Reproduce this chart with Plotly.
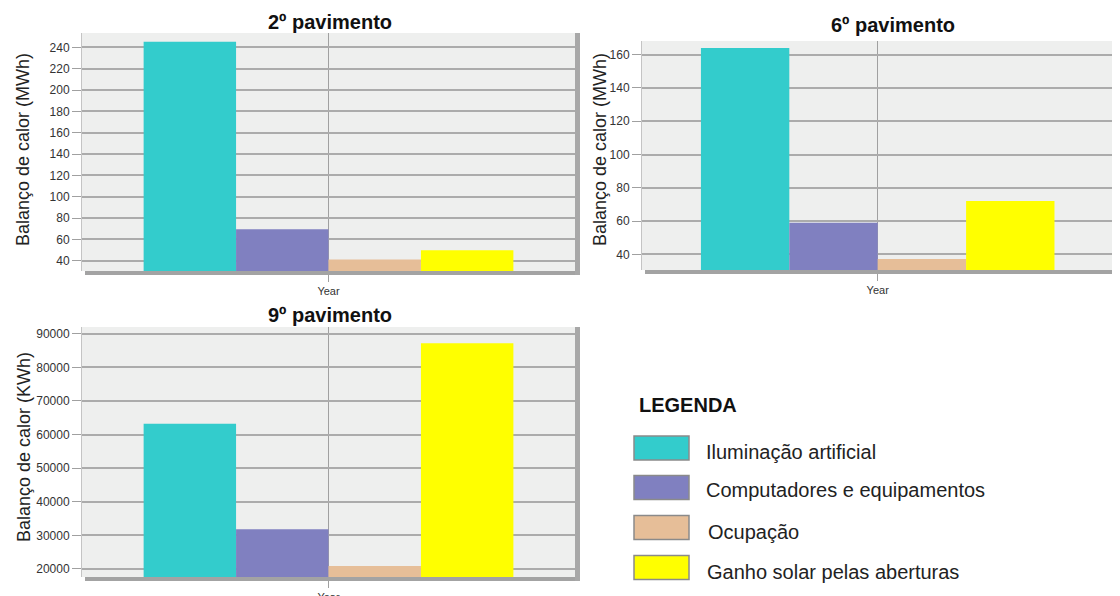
import plotly.graph_objects as go

# the page body keeps its default 8px margin: the figure is shifted by it and the
# window clips its right and bottom 8px, so the figure is drawn 8px smaller
OFF = 8
W, H = 1120 - OFF, 596 - OFF

categories = ["Iluminação artificial", "Computadores e equipamentos", "Ocupação", "Ganho solar pelas aberturas"]
colors = ["#33CCCC", "#8080C0", "#E6BE98", "#FFFF00"]
x_label = ["Year"]

pav2 = [245.3, 69.5, 41, 49.7]
pav6 = [164, 59, 37.2, 72]
pav9 = [63200, 31800, 20900, 87200]

titles = ["2º pavimento", "6º pavimento", "9º pavimento"]
ytitles = ["Balanço de calor (MWh)", "Balanço de calor (MWh)", "Balanço de calor (KWh)"]


def px(x):
    return min(max((x - OFF) / W, 0), 1)


def py(y):
    return min(max(1 - (y - OFF) / H, 0), 1)


# panel geometry in screen pixels: left, right, top, bottom
panels = [
    dict(l=82, r=575, t=33, b=271, yr=[30.3, 253.5], dt=20, xr=[-0.5, 0.5], data=pav2,
         title_xy=(330, 22), ytitle_xy=(23, 150)),
    dict(l=642, r=1120, t=41, b=270, yr=[30.6, 168.2], dt=20, xr=[-0.5, 0.514], data=pav6,
         title_xy=(893, 25), ytitle_xy=(600, 150)),
    dict(l=82, r=575, t=327, b=577, yr=[17600, 92000], dt=10000, xr=[-0.5, 0.5], data=pav9,
         title_xy=(330, 315), ytitle_xy=(24, 447)),
]

fig = go.Figure()
shapes = []
annotations = []
font_family = "Liberation Sans, Arial, sans-serif"

for i, p in enumerate(panels):
    xa = "x" if i == 0 else f"x{i+1}"
    ya = "y" if i == 0 else f"y{i+1}"
    for name, col, v in zip(categories, colors, p["data"]):
        fig.add_trace(go.Bar(x=x_label, y=[v], name=name, marker=dict(color=col, line=dict(width=0)),
                             xaxis=xa, yaxis=ya, showlegend=False))
    xkey = "xaxis" if i == 0 else f"xaxis{i+1}"
    ykey = "yaxis" if i == 0 else f"yaxis{i+1}"
    fig.update_layout(**{
        xkey: dict(domain=[px(p["l"]), px(p["r"])], anchor=ya, range=p["xr"], automargin=False,
                   showgrid=True, gridcolor="#a0a0a0", gridwidth=1,
                   ticks="outside", ticklen=10, tickcolor="#a0a0a0",
                   tickfont=dict(size=11, color="#333333", family=font_family),
                   showline=False, zeroline=False, fixedrange=True),
        ykey: dict(domain=[py(p["b"]), py(p["t"])], anchor=xa, range=p["yr"], dtick=p["dt"],
                   automargin=False, tick0=0, tickformat="d",
                   showgrid=True, gridcolor="#ababab", gridwidth=1.6,
                   ticks="outside", ticklen=9, tickcolor="#a0a0a0",
                   tickfont=dict(size=12, color="#333333", family=font_family),
                   showline=True, linecolor="#c4c4c4", linewidth=1, zeroline=False),
    })
    # shadow borders
    shapes.append(dict(type="rect", xref="paper", yref="paper",
                       x0=px(p["l"] + 3), x1=px(p["r"] + 5),
                       y0=py(p["b"] + 4), y1=py(p["b"]),
                       fillcolor="#a3a3a3", line=dict(width=0), layer="above"))
    if p["r"] + 5 <= 1120:
        shapes.append(dict(type="rect", xref="paper", yref="paper",
                           x0=px(p["r"]), x1=px(p["r"] + 5),
                           y0=py(p["b"] + 4), y1=py(p["t"]),
                           fillcolor="#a8a8a8", line=dict(width=0), layer="above"))
    tx, ty = p["title_xy"]
    annotations.append(dict(text=f"<b>{titles[i]}</b>", x=px(tx), y=py(ty), xref="paper", yref="paper",
                            xanchor="center", yanchor="middle", showarrow=False,
                            font=dict(size=20, color="#111111", family=font_family)))
    ax, ay = p["ytitle_xy"]
    annotations.append(dict(text=ytitles[i], x=px(ax), y=py(ay), xref="paper", yref="paper",
                            xanchor="center", yanchor="middle", showarrow=False, textangle=-90,
                            font=dict(size=18, color="#222222", family=font_family)))

# legend block
annotations.append(dict(text="<b>LEGENDA</b>", x=px(637), y=py(405), xref="paper", yref="paper",
                        xanchor="left", yanchor="middle", showarrow=False,
                        font=dict(size=20, color="#111111", family=font_family)))
row_sw = [448, 487.5, 527.5, 567.5]
row_tx = [451.5, 490, 531.5, 571.5]
tx_x = [704, 704, 706, 705]
for name, col, ys, yt, xt in zip(categories, colors, row_sw, row_tx, tx_x):
    shapes.append(dict(type="rect", xref="paper", yref="paper",
                       x0=px(634), x1=px(689), y0=py(ys + 12), y1=py(ys - 12),
                       fillcolor=col, line=dict(color="#8a8a8a", width=1.5)))
    annotations.append(dict(text=name, x=px(xt), y=py(yt), xref="paper", yref="paper",
                            xanchor="left", yanchor="middle", showarrow=False,
                            font=dict(size=20, color="#222222", family=font_family)))

fig.update_layout(
    width=W, height=H, margin=dict(l=0, r=0, t=0, b=0, autoexpand=False),
    paper_bgcolor="white", plot_bgcolor="#eeefee",
    barmode="group", bargap=0.25, bargroupgap=0,
    shapes=shapes, annotations=annotations,
    font=dict(family=font_family),
)

fig.write_html("out.html")
